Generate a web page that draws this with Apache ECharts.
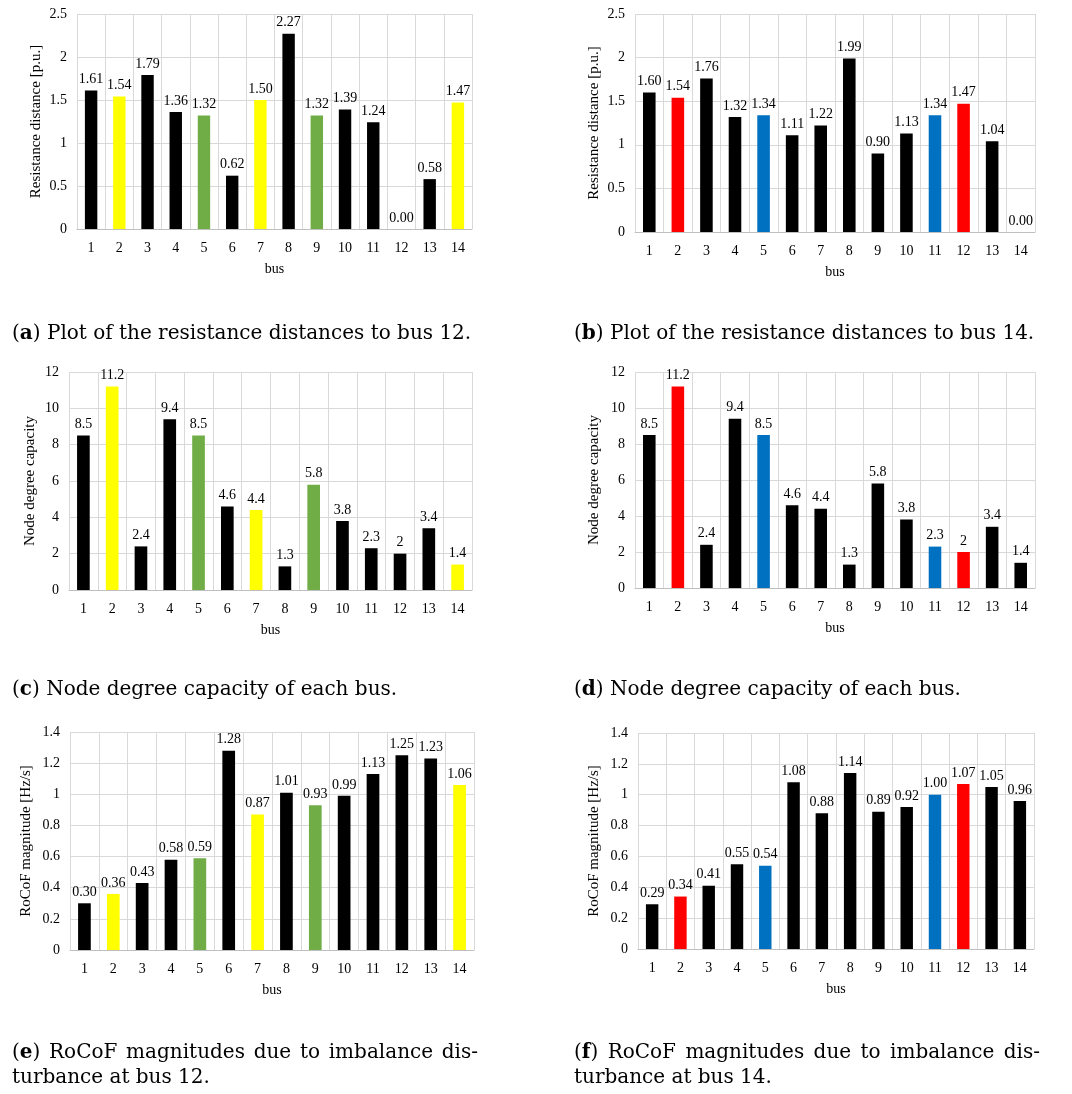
<!DOCTYPE html>
<html>
<head>
<meta charset="utf-8">
<script src="https://cdn.jsdelivr.net/npm/echarts@6/dist/echarts.min.js"></script>
<style>
  html, body { margin: 0; padding: 0; background: #fff; }
  #chart { width: 1072px; height: 1094px; }
</style>
</head>
<body>
<div id="chart"></div>
<script>
// Bus numbers of the IEEE 14-bus system
const buses = ['1','2','3','4','5','6','7','8','9','10','11','12','13','14'];

// Resistance distances [p.u.]
const resistTo12 = [1.61, 1.54, 1.79, 1.36, 1.32, 0.62, 1.50, 2.27, 1.32, 1.39, 1.24, 0.00, 0.58, 1.47];
const resistTo14 = [1.60, 1.54, 1.76, 1.32, 1.34, 1.11, 1.22, 1.99, 0.90, 1.13, 1.34, 1.47, 1.04, 0.00];

// Node degree capacity
const degreeCapacity = [8.5, 11.2, 2.4, 9.4, 8.5, 4.6, 4.4, 1.3, 5.8, 3.8, 2.3, 2, 3.4, 1.4];

// RoCoF magnitudes [Hz/s]
const rocofBus12 = [0.30, 0.36, 0.43, 0.58, 0.59, 1.28, 0.87, 1.01, 0.93, 0.99, 1.13, 1.25, 1.23, 1.06];
const rocofBus14 = [0.29, 0.34, 0.41, 0.55, 0.54, 1.08, 0.88, 1.14, 0.89, 0.92, 1.00, 1.07, 1.05, 0.96];

// Highlighted buses
const yellowBuses = ['2', '7', '14'];
const greenBuses = ['5', '9'];
const redBuses = ['2', '12'];
const blueBuses = ['5', '11'];

// Y axis ticks
const resistTicks = { min: 0, max: 2.5, interval: 0.5 };
const degreeTicks = { min: 0, max: 12, interval: 2 };
const rocofTicks = { min: 0, max: 1.4, interval: 0.2 };

const captions = {
  a: ['Plot of the resistance distances to bus 12.'],
  b: ['Plot of the resistance distances to bus 14.'],
  c: ['Node degree capacity of each bus.'],
  d: ['Node degree capacity of each bus.'],
  e: ['RoCoF magnitudes due to imbalance dis-', 'turbance at bus 12.'],
  f: ['RoCoF magnitudes due to imbalance dis-', 'turbance at bus 14.']
};

const SERIF = '"Liberation Serif", "Times New Roman", serif';
const CAPTION_FONT = '"DejaVu Serif", "Liberation Serif", serif';
const CAPTION_SIZE = 20;

function colorsFor(scheme) {
  return buses.map(b => {
    if (scheme === 'a') {
      if (yellowBuses.includes(b)) return '#FFFF00';
      if (greenBuses.includes(b)) return '#70AD47';
    } else {
      if (redBuses.includes(b)) return '#FF0000';
      if (blueBuses.includes(b)) return '#0070C0';
    }
    return '#000000';
  });
}

// Panel layouts (plot area in pixels)
const panels = [
  { grid: { left: 77, top: 14, width: 395, height: 215 }, data: resistTo12, scheme: 'a', ticks: resistTicks, name: 'Resistance distance [p.u.]', fixed: 2, nameGap: 33 },
  { grid: { left: 635, top: 14, width: 400, height: 218 }, data: resistTo14, scheme: 'b', ticks: resistTicks, name: 'Resistance distance [p.u.]', fixed: 2, nameGap: 33 },
  { grid: { left: 69, top: 372, width: 403, height: 218 }, data: degreeCapacity, scheme: 'a', ticks: degreeTicks, name: 'Node degree capacity', fixed: null, nameGap: 31 },
  { grid: { left: 635, top: 372, width: 400, height: 216 }, data: degreeCapacity, scheme: 'b', ticks: degreeTicks, name: 'Node degree capacity', fixed: null, nameGap: 33 },
  { grid: { left: 70, top: 732, width: 404, height: 218 }, data: rocofBus12, scheme: 'a', ticks: rocofTicks, name: 'RoCoF magnitude [Hz/s]', fixed: 2, nameGap: 36 },
  { grid: { left: 638, top: 733, width: 396, height: 216 }, data: rocofBus14, scheme: 'b', ticks: rocofTicks, name: 'RoCoF magnitude [Hz/s]', fixed: 2, nameGap: 36 }
];

const grids = [], xAxes = [], yAxes = [], series = [];
panels.forEach((p, i) => {
  grids.push(Object.assign({ containLabel: false }, p.grid));
  xAxes.push({
    type: 'category', gridIndex: i, data: buses,
    name: 'bus', nameLocation: 'middle', nameGap: 33,
    nameTextStyle: { fontFamily: SERIF, fontSize: 14, color: '#000' },
    axisLine: { lineStyle: { color: '#bfbfbf', width: 1 } },
    axisTick: { show: false },
    axisLabel: { fontFamily: SERIF, fontSize: 14, color: '#000', margin: 12 },
    splitLine: { show: true, lineStyle: { color: '#d9d9d9', width: 1 } }
  });
  yAxes.push({
    type: 'value', gridIndex: i,
    min: p.ticks.min, max: p.ticks.max, interval: p.ticks.interval,
    name: p.name, nameLocation: 'middle', nameGap: p.nameGap,
    nameTextStyle: { fontFamily: SERIF, fontSize: 15, color: '#000' },
    axisLine: { show: false }, axisTick: { show: false },
    axisLabel: { fontFamily: SERIF, fontSize: 14, color: '#000', margin: 10 },
    splitLine: { lineStyle: { color: '#d9d9d9', width: 1 } }
  });
  const cols = colorsFor(p.scheme);
  series.push({
    type: 'bar', xAxisIndex: i, yAxisIndex: i, barWidth: '44%',
    data: p.data.map((v, k) => ({ value: v, itemStyle: { color: cols[k] } })),
    label: {
      show: true, position: 'top', distance: 4,
      fontFamily: SERIF, fontSize: 14, color: '#000',
      formatter: prm => p.fixed === null ? String(prm.value) : prm.value.toFixed(p.fixed)
    },
    animation: false
  });
});

// Sub-figure captions; a line with a target width is set justified
const capLayout = {
  a: { x: 12, y: 334 }, b: { x: 574, y: 334 },
  c: { x: 12, y: 690 }, d: { x: 574, y: 690 },
  e: { x: 12, y: 1053, justify: 466 }, f: { x: 574, y: 1053, justify: 466 }
};
const LINE_STEP = 25;
const measureCtx = document.createElement('canvas').getContext('2d');
function textWidth(str, bold) {
  measureCtx.font = (bold ? 'bold ' : '') + CAPTION_SIZE + 'px ' + CAPTION_FONT;
  return measureCtx.measureText(str).width;
}
const richBold = { b: { fontWeight: 'bold', fontSize: CAPTION_SIZE, fontFamily: CAPTION_FONT, fill: '#000' } };
function captionText(x, y, str) {
  return {
    type: 'text', x: x, y: y,
    style: {
      text: str, fill: '#000', font: CAPTION_SIZE + 'px ' + CAPTION_FONT,
      verticalAlign: 'middle', align: 'left', rich: richBold
    }
  };
}
const graphic = [];
Object.keys(captions).forEach(key => {
  const lay = capLayout[key];
  captions[key].forEach((line, li) => {
    const y = lay.y + li * LINE_STEP;
    const isFirst = li === 0;
    const isJustified = isFirst && lay.justify && captions[key].length > 1;
    if (!isJustified) {
      const str = isFirst ? '({b|' + key + '}) ' + line : line;
      graphic.push(captionText(lay.x, y, str));
      return;
    }
    // justified: spread words over the target width
    const words = ['(' + key + ')'].concat(line.split(' '));
    const widths = words.map((w, k) => k === 0
      ? textWidth('(', false) * 2 + textWidth(key, true)
      : textWidth(w, false));
    const total = widths.reduce((s, w) => s + w, 0);
    const gap = (lay.justify - total) / (words.length - 1);
    let cx = lay.x;
    words.forEach((w, k) => {
      const str = k === 0 ? '({b|' + key + '})' : w;
      graphic.push(captionText(cx, y, str));
      cx += widths[k] + gap;
    });
  });
});

const chart = echarts.init(document.getElementById('chart'), null, { renderer: 'canvas' });
chart.setOption({
  animation: false,
  backgroundColor: '#fff',
  grid: grids, xAxis: xAxes, yAxis: yAxes, series: series,
  graphic: graphic
});
</script>
</body>
</html>
